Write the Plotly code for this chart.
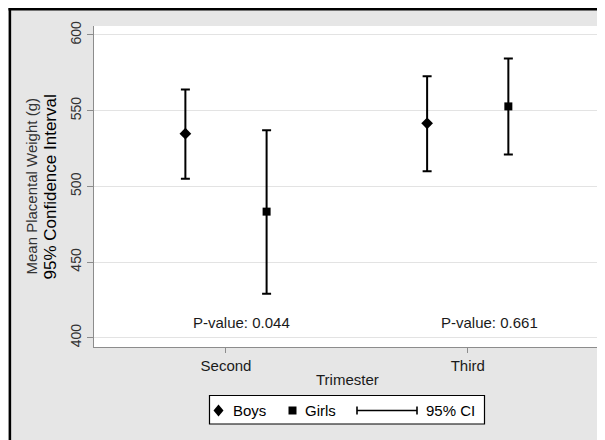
import plotly.graph_objects as go

# ---- data ----
trimesters = ["Second", "Third"]
boys_mean = [534.8, 541.6]
boys_lo = [505.0, 510.0]
boys_hi = [564.0, 572.7]
girls_mean = [483.3, 552.8]
girls_lo = [429.0, 521.0]
girls_hi = [537.0, 584.5]
p_values = ["0.044", "0.661"]
y_ticks = [400, 450, 500, 550, 600]

# ---- layout geometry (pixels) ----
OFF = 8                      # page body margin
W, H = 605 - OFF, 440 - OFF
L, T = 94 - OFF, 26 - OFF
PW, PH = 505, 321
R, B = W - L - PW, H - T - PH
FONT = "Liberation Sans, Arial, sans-serif"


def px2x(px):
    """screen x pixel -> paper fraction"""
    return (px - OFF - L) / PW


def py2y(py):
    """screen y pixel -> paper fraction"""
    return (T + PH - (py - OFF)) / PH


offset = 0.168
xpos = [i + 1 for i in range(len(trimesters))]

fig = go.Figure()

fig.add_trace(go.Scatter(
    x=[v - offset for v in xpos], y=boys_mean, mode="markers", name="Boys",
    marker=dict(symbol="diamond", size=9, color="black"),
    error_y=dict(type="data", symmetric=False,
                 array=[h - m for h, m in zip(boys_hi, boys_mean)],
                 arrayminus=[m - l for m, l in zip(boys_mean, boys_lo)],
                 color="black", thickness=2, width=4.5),
    showlegend=False,
))
fig.add_trace(go.Scatter(
    x=[v + offset for v in xpos], y=girls_mean, mode="markers", name="Girls",
    marker=dict(symbol="square", size=8, color="black"),
    error_y=dict(type="data", symmetric=False,
                 array=[h - m for h, m in zip(girls_hi, girls_mean)],
                 arrayminus=[m - l for m, l in zip(girls_mean, girls_lo)],
                 color="black", thickness=2, width=4.5),
    showlegend=False,
))

annotations = []
# P-value labels
for i, p in enumerate(p_values):
    annotations.append(dict(
        x=xpos[i] + [0.066, 0.088][i], y=410, xref="x", yref="y",
        text=f"P-value: {p}", showarrow=False,
        font=dict(family=FONT, size=15, color="#1a1a1a"),
        xanchor="center", yanchor="middle"))

# y-axis title (two lines)
annotations.append(dict(
    x=px2x(31.5), y=py2y(187), xref="paper", yref="paper",
    text="Mean Placental Weight (g)", showarrow=False, textangle=-90,
    font=dict(family=FONT, size=15, color="#333333"),
    xanchor="center", yanchor="middle"))
annotations.append(dict(
    x=px2x(50.5), y=py2y(187), xref="paper", yref="paper",
    text="95% Confidence Interval", showarrow=False, textangle=-90,
    font=dict(family=FONT, size=17, color="#000000"),
    xanchor="center", yanchor="middle"))

# x-axis title
annotations.append(dict(
    x=px2x(347), y=py2y(379), xref="paper", yref="paper",
    text="Trimester", showarrow=False,
    font=dict(family=FONT, size=15, color="#1a1a1a"),
    xanchor="center", yanchor="middle"))

# legend texts
for txt, left in [("Boys", 231), ("Girls", 303), ("95% CI", 424)]:
    annotations.append(dict(
        x=px2x(left), y=py2y(410.5), xref="paper", yref="paper",
        text=txt, showarrow=False,
        font=dict(family=FONT, size=15, color="#000000"),
        xanchor="left", yanchor="middle"))

shapes = []
# black frame lines (top and left)
shapes.append(dict(type="line", xref="paper", yref="paper",
                   x0=px2x(8.5), x1=px2x(610), y0=py2y(9.2), y1=py2y(9.2),
                   line=dict(color="black", width=2.5)))
shapes.append(dict(type="line", xref="paper", yref="paper",
                   x0=px2x(9.9), x1=px2x(9.9), y0=py2y(8), y1=py2y(445),
                   line=dict(color="black", width=2.5)))

# legend box
shapes.append(dict(type="rect", xref="paper", yref="paper",
                   x0=px2x(209.5), x1=px2x(484.5), y0=py2y(424), y1=py2y(395.5),
                   fillcolor="white", line=dict(color="black", width=1.2)))
# legend diamond
shapes.append(dict(type="path", xref="paper", yref="paper",
                   xsizemode="pixel", ysizemode="pixel",
                   xanchor=px2x(218.5), yanchor=py2y(410.5),
                   path="M -5 0 L 0 6 L 5 0 L 0 -6 Z",
                   fillcolor="black", line=dict(width=0)))
# legend square
shapes.append(dict(type="rect", xref="paper", yref="paper",
                   xsizemode="pixel", ysizemode="pixel",
                   xanchor=px2x(292.5), yanchor=py2y(410.5),
                   x0=-4, x1=4, y0=-4, y1=4,
                   fillcolor="black", line=dict(width=0)))
# legend CI symbol
shapes.append(dict(type="path", xref="paper", yref="paper",
                   xsizemode="pixel", ysizemode="pixel",
                   xanchor=px2x(387), yanchor=py2y(410.5),
                   path="M -30 -4 L -30 4 M -30 0 L 30 0 M 30 -4 L 30 4",
                   line=dict(color="black", width=1.6)))

fig.update_layout(
    width=W, height=H,
    margin=dict(l=L, r=R, t=T, b=B, pad=0),
    paper_bgcolor="#e6e6e6", plot_bgcolor="white",
    font=dict(family=FONT, size=14, color="#222222"),
    showlegend=False,
    annotations=annotations, shapes=shapes,
    xaxis=dict(range=[0.454, 2.543], tickmode="array", tickvals=xpos,
               ticktext=trimesters, showgrid=False, zeroline=False,
               showline=True, linecolor="#8c8c8c", linewidth=1.2,
               ticks="outside", ticklen=5, tickcolor="#8c8c8c",
               tickfont=dict(family=FONT, size=15, color="#1a1a1a")),
    yaxis=dict(range=[393.9, 605.9], tickmode="array", tickvals=y_ticks,
               showgrid=True, gridcolor="#e3e3e3", gridwidth=1.2,
               zeroline=False, showline=True, linecolor="#8c8c8c",
               linewidth=1.2, ticks="outside", ticklen=6,
               tickcolor="#8c8c8c", tickangle=-90,
               tickfont=dict(family=FONT, size=14, color="#333333")),
)

fig.write_html("out.html")
